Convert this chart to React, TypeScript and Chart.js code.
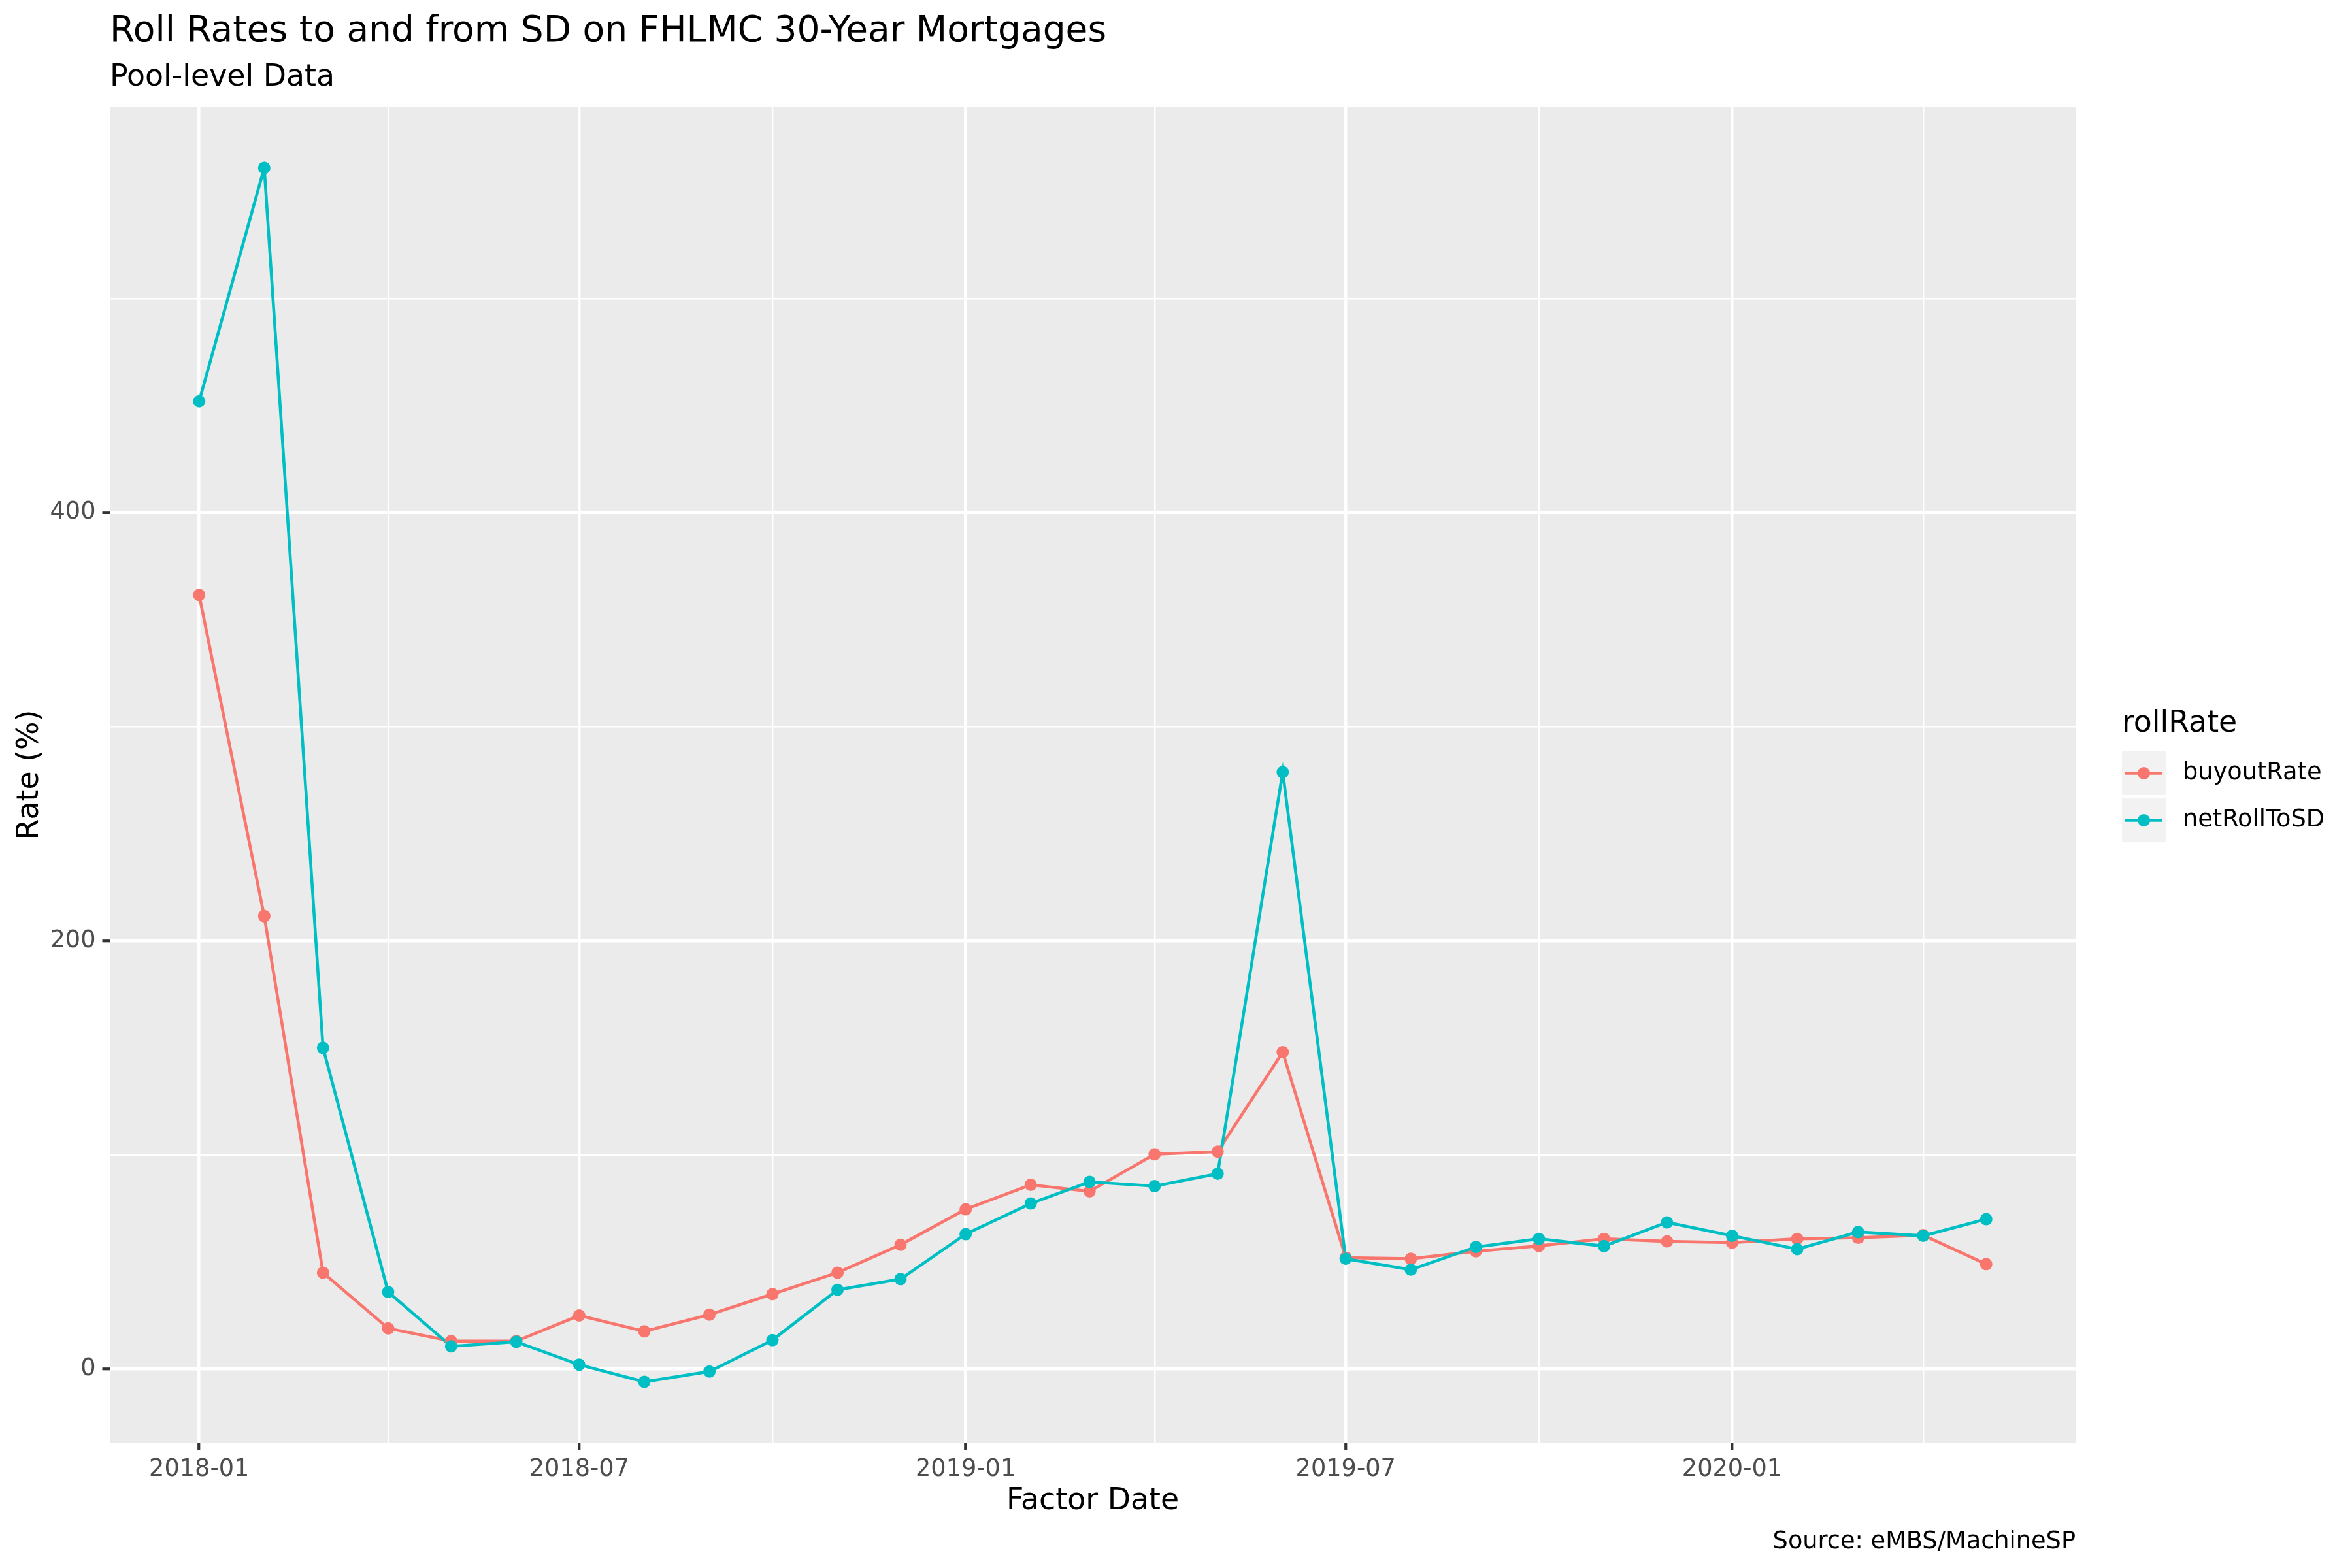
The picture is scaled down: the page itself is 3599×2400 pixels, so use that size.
import { useEffect, useRef } from "react";
import { Chart, registerables } from "chart.js";

Chart.register(...registerables);

const FONT = "'DejaVu Sans', sans-serif";

const months = [
  "2018-01", "2018-02", "2018-03", "2018-04", "2018-05", "2018-06",
  "2018-07", "2018-08", "2018-09", "2018-10", "2018-11", "2018-12",
  "2019-01", "2019-02", "2019-03", "2019-04", "2019-05", "2019-06",
  "2019-07", "2019-08", "2019-09", "2019-10", "2019-11", "2019-12",
  "2020-01", "2020-02", "2020-03", "2020-04", "2020-05",
];
const buyoutRate = [
  361.5, 211.5, 45, 19, 13, 13, 25, 17.6, 25.4, 35, 45, 58,
  74.6, 86, 83, 100.3, 101.5, 148, 52, 51.5, 55, 57.5, 60.8, 59.6,
  59, 60.8, 61.3, 62.5, 49,
];
const netRollToSD = [
  452, 561, 150, 36, 10.6, 12.7, 2, -6, -1.2, 13.5, 37, 42,
  63, 77.3, 87.4, 85.4, 91.2, 278.8, 51.5, 46.4, 57, 60.8, 57.4, 68.5,
  62.2, 56, 64, 62.2, 70,
];
const seriesNames = ["buyoutRate", "netRollToSD"];
const seriesColors = ["#F8766D", "#00BFC4"];
const xMajorTicks = ["2018-01", "2018-07", "2019-01", "2019-07", "2020-01"];
const xMinorTicks = ["2018-04", "2018-10", "2019-04", "2019-10", "2020-04"];
const yMajorTicks = [0, 200, 400];
const yMinorTicks = [100, 300, 500];

const dayOf = (m: string) => {
  const [y, mo] = m.split("-").map(Number);
  return (Date.UTC(y, mo - 1, 1) - Date.UTC(2018, 0, 1)) / 86400000;
};

const expand = (vals: number[]) => {
  const lo = Math.min(...vals);
  const hi = Math.max(...vals);
  const pad = (hi - lo) * 0.05;
  return [lo - pad, hi + pad];
};

const LINE_W = 4.6;
const MAJOR_W = 4.5;
const MINOR_W = 2.4;

const ggText = {
  id: "ggText",
  beforeDraw(chart: any) {
    const { ctx, chartArea: a } = chart;
    ctx.save();
    ctx.fillStyle = "#EBEBEB";
    ctx.fillRect(a.left, a.top, a.right - a.left, a.bottom - a.top);
    ctx.restore();
  },
  afterDraw(chart: any) {
    const { ctx, chartArea: a } = chart;
    ctx.save();
    ctx.fillStyle = "#000";
    ctx.textBaseline = "alphabetic";
    ctx.textAlign = "left";
    ctx.font = `55px ${FONT}`;
    ctx.fillText("Roll Rates to and from SD on FHLMC 30-Year Mortgages", a.left, 63);
    ctx.font = `45.8px ${FONT}`;
    ctx.fillText("Pool-level Data", a.left, 131);

    ctx.textAlign = "center";
    ctx.fillText("Factor Date", (a.left + a.right) / 2, 2310);
    ctx.save();
    ctx.translate(58, (a.top + a.bottom) / 2);
    ctx.rotate(-Math.PI / 2);
    ctx.fillText("Rate (%)", 0, 0);
    ctx.restore();

    ctx.textAlign = "right";
    ctx.font = `36.7px ${FONT}`;
    ctx.fillText("Source: eMBS/MachineSP", a.right, 2370);

    // legend
    const lx = a.right + 71;
    ctx.textAlign = "left";
    ctx.font = `45.8px ${FONT}`;
    ctx.fillText("rollRate", lx, 1120);
    const key = 67;
    seriesNames.forEach((name, i) => {
      const ky = 1150 + i * (key + 5);
      const cy = ky + key / 2;
      ctx.fillStyle = "#F2F2F2";
      ctx.fillRect(lx, ky, key, key);
      ctx.strokeStyle = seriesColors[i];
      ctx.lineWidth = LINE_W;
      ctx.beginPath();
      ctx.moveTo(lx + 5, cy);
      ctx.lineTo(lx + key - 5, cy);
      ctx.stroke();
      ctx.fillStyle = seriesColors[i];
      ctx.beginPath();
      ctx.arc(lx + key / 2, cy, 9.5, 0, Math.PI * 2);
      ctx.fill();
      ctx.fillStyle = "#000";
      ctx.font = `36.7px ${FONT}`;
      ctx.textBaseline = "middle";
      ctx.fillText(name, lx + 93, cy);
      ctx.textBaseline = "alphabetic";
    });
    ctx.restore();
  },
};

export default function App() {
  const ref = useRef<HTMLCanvasElement>(null);
  const chartRef = useRef<Chart | null>(null);

  useEffect(() => {
    if (!ref.current) return;
    chartRef.current?.destroy();
    const xs = months.map(dayOf);
    const [xMin, xMax] = expand(xs);
    const [yMin, yMax] = expand([...buyoutRate, ...netRollToSD]);
    const series = [buyoutRate, netRollToSD];
    const pts = (vals: number[]) => vals.map((v, i) => ({ x: xs[i], y: v }));
    const xMajorDays = xMajorTicks.map(dayOf);

    // lines first, then all points on top (like ggplot layers)
    const datasets: any[] = [];
    series.forEach((vals, i) => {
      datasets.push({
        label: seriesNames[i] + " line",
        data: pts(vals),
        borderColor: seriesColors[i],
        borderWidth: LINE_W,
        pointRadius: 0,
        fill: false,
        tension: 0,
        order: 3 - i,
      });
      datasets.push({
        label: seriesNames[i],
        data: pts(vals),
        showLine: false,
        pointRadius: 9.5,
        pointBorderWidth: 0,
        pointBackgroundColor: seriesColors[i],
        borderColor: seriesColors[i],
        order: 1 - i,
      });
    });

    chartRef.current = new Chart(ref.current, {
      type: "line",
      data: { datasets },
      plugins: [ggText],
      options: {
        responsive: false,
        devicePixelRatio: 1,
        animation: false,
        layout: { padding: { top: 164, right: 423, left: 0, bottom: 0 } },
        plugins: {
          legend: { display: false },
          tooltip: { enabled: false },
          title: { display: false },
        },
        scales: {
          x: {
            type: "linear",
            min: xMin,
            max: xMax,
            afterBuildTicks: (s: any) => {
              s.ticks = [...xMajorTicks, ...xMinorTicks]
                .map(dayOf)
                .sort((p, q) => p - q)
                .map((v) => ({ value: v }));
            },
            afterFit: (s: any) => { s.height = 192; },
            border: { display: false },
            grid: {
              color: "#FFFFFF",
              lineWidth: (c: any) => (xMajorDays.includes(c.tick?.value) ? MAJOR_W : MINOR_W),
              tickLength: 11.5,
              tickWidth: 4.2,
              tickColor: (c: any) => (xMajorDays.includes(c.tick?.value) ? "#333333" : "rgba(0,0,0,0)"),
            },
            ticks: {
              autoSkip: false,
              maxRotation: 0,
              padding: 8,
              color: "#4D4D4D",
              font: { family: FONT, size: 36.7 },
              callback: (v: any) => {
                const i = xMajorDays.indexOf(Number(v));
                return i >= 0 ? xMajorTicks[i] : "";
              },
            },
          },
          y: {
            type: "linear",
            min: yMin,
            max: yMax,
            afterBuildTicks: (s: any) => {
              s.ticks = [...yMajorTicks, ...yMinorTicks]
                .sort((p, q) => p - q)
                .map((v) => ({ value: v }));
            },
            afterFit: (s: any) => { s.width = 168; },
            border: { display: false },
            grid: {
              color: "#FFFFFF",
              lineWidth: (c: any) => (yMajorTicks.includes(c.tick?.value) ? MAJOR_W : MINOR_W),
              tickLength: 11.5,
              tickWidth: 4.2,
              tickColor: (c: any) => (yMajorTicks.includes(c.tick?.value) ? "#333333" : "rgba(0,0,0,0)"),
            },
            ticks: {
              autoSkip: false,
              padding: 10,
              color: "#4D4D4D",
              font: { family: FONT, size: 36.7 },
              callback: (v: any) => (yMajorTicks.includes(Number(v)) ? String(v) : ""),
            },
          },
        },
      },
    });
    return () => { chartRef.current?.destroy(); };
  }, []);

  return (
    <div style={{ position: "fixed", left: 0, top: 0, width: 3599, height: 2400, background: "#fff" }}>
      <canvas ref={ref} width={3599} height={2400} style={{ display: "block", width: 3599, height: 2400 }} />
    </div>
  );
}
